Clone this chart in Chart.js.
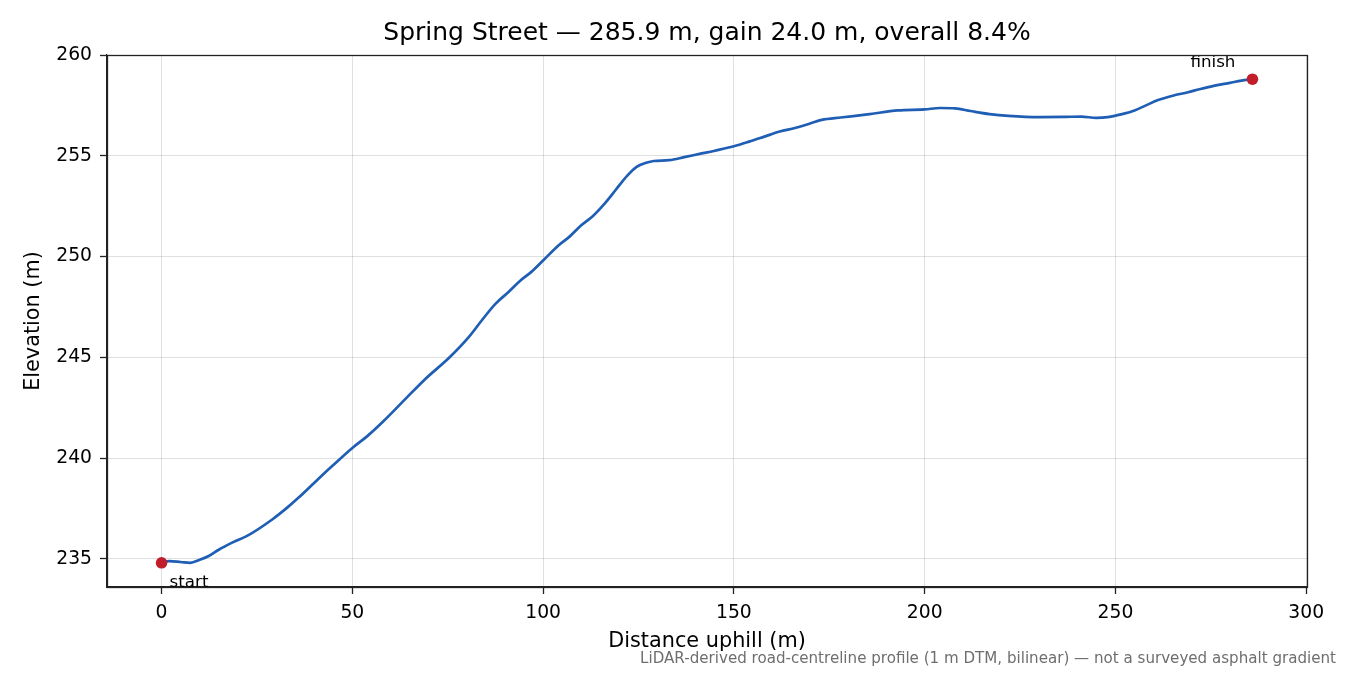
<!DOCTYPE html>
<html>
<head>
<meta charset="utf-8">
<script src="https://cdn.jsdelivr.net/npm/chart.js@4/dist/chart.umd.min.js"></script>
<style>
html,body{margin:0;padding:0;background:#fff;}
#wrap{width:1350px;height:675px;position:relative;}
</style>
</head>
<body>
<div id="wrap"><canvas id="c" width="1350" height="675"></canvas></div>
<script>
// ---- data ----
const distance = [0,2,5,7.5,10,12.5,15,18.5,23,29,33,36,41,45,50,54,58,64,69,75.5,80.5,84,87.5,91,94,97,100,104,107,110,113,116,119,122,124.5,127,129,133,137,141,145,150,154,158,162,166,170,173,178,185,193,200,204,208,212,217,222,230,237,241,245,248,252,255,258,261,265,269,272,276,280,283,285.9];
const elevation = [234.82,234.88,234.84,234.80,234.95,235.15,235.45,235.80,236.20,236.95,237.55,238.05,238.95,239.65,240.50,241.10,241.80,242.95,243.90,245.00,246.00,246.85,247.65,248.25,248.80,249.25,249.80,250.55,251.00,251.55,252.00,252.60,253.30,254.00,254.45,254.65,254.74,254.78,254.93,255.09,255.25,255.47,255.70,255.95,256.20,256.38,256.60,256.78,256.90,257.05,257.25,257.30,257.37,257.35,257.22,257.07,256.98,256.92,256.93,256.94,256.88,256.92,257.08,257.25,257.50,257.75,257.98,258.15,258.30,258.48,258.62,258.73,258.80];
const markerLabels = ["start","finish"];
const markerDistance = [0,285.9];
const markerElevation = [234.8,258.8];
const xTicks = [0,50,100,150,200,250,300];
const yTicks = [235,240,245,250,255,260];
const titleText = "Spring Street — 285.9 m, gain 24.0 m, overall 8.4%";
const xTitle = "Distance uphill (m)";
const yTitle = "Elevation (m)";
const footnote = "LiDAR-derived road-centreline profile (1 m DTM, bilinear) — not a surveyed asphalt gradient";

const FONT = "'DejaVu Sans', sans-serif";
Chart.defaults.font.family = FONT;
Chart.defaults.color = '#000';

const textPlugin = {
  id: 'texts',
  afterDraw(chart) {
    const ctx = chart.ctx;
    const {left, right, top, bottom} = chart.chartArea;
    const xs = chart.scales.x, ys = chart.scales.y;
    ctx.save();
    // annotations
    ctx.fillStyle = '#000';
    ctx.font = "16.7px " + FONT;
    ctx.textBaseline = 'alphabetic';
    ctx.textAlign = 'left';
    ctx.fillText(markerLabels[0], xs.getPixelForValue(markerDistance[0]) + 8, ys.getPixelForValue(markerElevation[0]) + 24);
    ctx.textAlign = 'center';
    ctx.fillText(markerLabels[1], xs.getPixelForValue(markerDistance[1]) - 39.5, ys.getPixelForValue(markerElevation[1]) - 12.5);
    // frame
    ctx.strokeStyle = '#222';
    ctx.lineWidth = 1.3;
    ctx.strokeRect(Math.round(left)+0.5, Math.round(top)+0.5, Math.round(right-left), Math.round(bottom-top));
    // title
    ctx.fillStyle = '#000';
    ctx.font = "25px " + FONT;
    ctx.textAlign = 'center';
    ctx.textBaseline = 'middle';
    ctx.fillText(titleText, (left+right)/2, 33);
    // footnote
    ctx.fillStyle = '#6e6e6e';
    ctx.font = "15.1px " + FONT;
    ctx.textAlign = 'right';
    ctx.fillText(footnote, 1336, 659);
    ctx.restore();
  }
};

new Chart(document.getElementById('c'), {
  type: 'line',
  data: {
    datasets: [
      {
        data: distance.map((d,i)=>({x:d, y:elevation[i]})),
        borderColor: '#1f5eb5',
        borderWidth: 2.7,
        pointRadius: 0,
        fill: false,
        cubicInterpolationMode: 'monotone',
        order: 2
      },
      {
        data: markerDistance.map((d,i)=>({x:d, y:markerElevation[i]})),
        showLine: false,
        pointRadius: 5.8,
        pointBackgroundColor: '#c21d2b',
        pointBorderColor: '#c21d2b',
        pointBorderWidth: 0,
        order: 1
      }
    ]
  },
  options: {
    responsive: false,
    animation: false,
    devicePixelRatio: 1,
    layout: { padding: { top: 55, right: 43, bottom: 21, left: 0 } },
    plugins: { legend: { display: false }, tooltip: { enabled: false }, title: { display: false } },
    scales: {
      x: {
        type: 'linear',
        min: -14.3,
        max: 300.2,
        afterBuildTicks: (axis) => { axis.ticks = xTicks.map(v => ({value: v})); },
        afterFit: (axis) => { axis.height = 67; },
        ticks: { font: { size: 18.75 }, color: '#000', padding: 8, maxRotation: 0, autoSkip: false },
        grid: { color: 'rgba(0,0,0,0.12)', lineWidth: 1, tickLength: 7, tickColor: '#222', tickWidth: 1.3 },
        border: { display: true, color: '#222', width: 1.3 },
        title: { display: true, text: xTitle, font: { size: 20.8 }, color: '#000', padding: { top: 0, bottom: 0 } }
      },
      y: {
        type: 'linear',
        min: 233.6,
        max: 260.0,
        afterBuildTicks: (axis) => { axis.ticks = yTicks.map(v => ({value: v})); },
        afterFit: (axis) => { axis.width = 107; },
        ticks: { font: { size: 18.75 }, color: '#000', padding: 8, autoSkip: false },
        grid: { color: 'rgba(0,0,0,0.12)', lineWidth: 1, tickLength: 7, tickColor: '#222', tickWidth: 1.3 },
        border: { display: true, color: '#222', width: 1.3 },
        title: { display: true, text: yTitle, font: { size: 20.8 }, color: '#000', padding: { top: 21, bottom: 0 } }
      }
    }
  },
  plugins: [textPlugin]
});
</script>
</body>
</html>
